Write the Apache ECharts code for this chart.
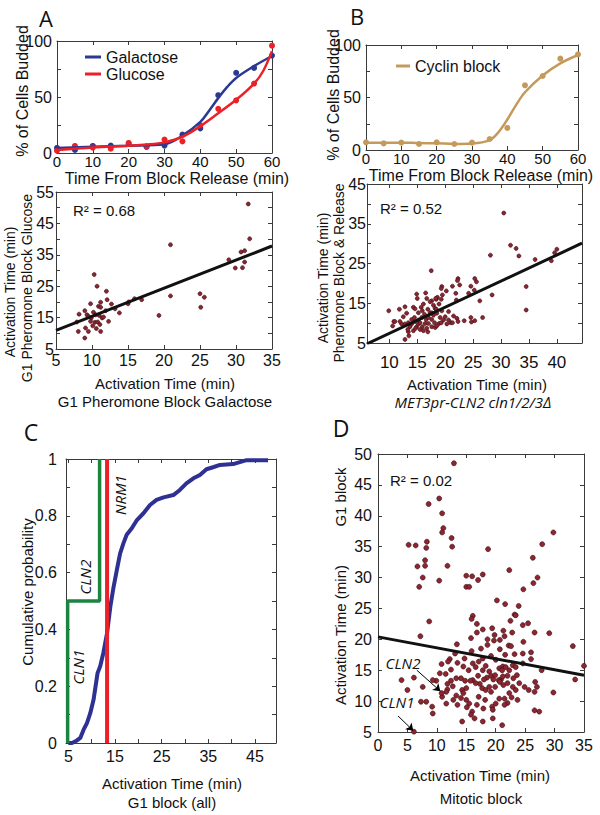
<!DOCTYPE html>
<html><head><meta charset="utf-8">
<script src="https://cdn.jsdelivr.net/npm/echarts@6/dist/echarts.min.js"></script>
<style>html,body{margin:0;padding:0;background:#fff}#c{width:600px;height:815px}</style>
</head><body><div id="c"></div>
<script>
// ---------- DATA ----------
// Panel A (top): % of cells budded vs time
const timeTicks = [0, 10, 20, 30, 40, 50, 60];
const galactoseDots = [[0,4.5],[5,2.7],[10,6.3],[15,6.6],[20,8],[25,5.4],[30,6.6],[35,16.4],[40,22],[45,51.6],[50,71.6],[55,76],[60,87]];
const glucoseDots = [[0,2],[5,6.3],[10,4.8],[15,3.9],[20,9],[25,6],[30,12],[35,10.4],[40,25],[45,39.4],[50,47],[55,62],[60,95.8]];
const galactoseFit = [[0,4.5],[10,5.5],[20,6.5],[30,7.8],[35,15.5],[40,27.8],[42.5,38],[45,49],[47.5,59],[50,67],[55,77.6],[60,86.6]];
const glucoseFit = [[0,2.7],[10,5],[20,6.5],[25,7.5],[30,9.5],[35,14.5],[40,24],[45,35.5],[50,47.5],[55,62],[57.5,73],[60,91]];
// Panel B (top)
const cyclinDots = [[0,7.3],[5,6.3],[10,7],[15,5.7],[20,7.3],[25,5.7],[30,7],[35,10.5],[40,21],[45,61.6],[50,70.5],[55,87],[60,91]];
const cyclinFit = [[0,7],[10,7],[15,6.6],[20,6.4],[25,5.8],[30,6.2],[35,9.5],[37.5,17],[40,29],[42.5,43],[45,55],[50,71],[55,82.5],[60,90.5]];
// Panel A (bottom): galactose vs glucose activation times
const scatterA = [[31.7,51.2],[31.9,40.1],[20.9,38.2],[30.7,35.9],[31.2,36.3],[29.0,33.4],[31.2,32.7],[29.9,30.8],[30.9,30.9],[10.3,28.7],[10.7,25.0],[12.0,23.4],[25.0,22.6],[25.6,21.5],[20.9,21.9],[25.1,18.3],[19.3,15.7],[12.1,20.7],[11.2,19.9],[9.8,19.4],[12.7,19.3],[10.9,18.6],[11.2,18.3],[13.2,17.8],[11.9,17.2],[13.8,16.5],[15.0,19.4],[15.1,20.0],[15.9,21.0],[16.9,20.7],[8.2,16.1],[9.0,17.2],[9.3,15.9],[9.5,15.4],[9.9,14.9],[10.2,16.7],[10.5,15.9],[11.0,15.7],[11.4,14.9],[9.8,13.8],[10.4,13.5],[10.8,13.6],[12.3,13.8],[11.1,12.8],[9.1,11.7],[10.6,11.5],[9.5,10.6],[8.1,10.6],[11.2,10.6],[9.0,8.5],[10.1,12.4],[11.6,15.2],[7.9,13.6]];
const fitA = [[5,10.9],[35,37.8]];
// Panel B (bottom)
const scatterB = [[30.5,37.7],[31.7,29.6],[32.7,28.8],[33.2,26.9],[28.1,27.1],[36.1,26.0],[39.0,25.7],[39.6,27.7],[40.0,28.6],[34.5,19.2],[34.5,13.3],[28.4,17.1],[26.2,15.6],[26.7,11.4],[17.5,23.2],[22.3,21.2],[22.2,20.7],[22.6,19.6],[21.3,19.3],[25.3,21.2],[25.6,20.4],[24.6,19.3],[25.2,18.3],[19.4,19.2],[19.3,18.7],[20.2,18.1],[19.5,17.1],[18.4,16.0],[18.6,16.5],[24.2,17.5],[19.3,16.0],[21.9,17.5],[22.0,15.8],[14.9,17.3],[16.5,17.6],[15.0,16.2],[16.7,16.2],[18.3,16.2],[17.6,15.6],[12.8,14.1],[11.8,13.5],[9.9,13.1],[14.3,14.0],[14.6,13.6],[15.7,14.0],[15.9,13.1],[17.9,14.5],[18.2,13.7],[16.9,13.5],[17.3,12.6],[18.4,13.5],[19.4,13.1],[20.6,12.9],[21.5,11.8],[22.1,11.2],[23.4,10.6],[24.6,11.4],[25.3,10.6],[24.7,10.3],[21.0,10.1],[21.3,10.1],[20.3,9.8],[19.7,10.8],[18.9,9.9],[18.1,10.1],[17.6,9.1],[16.4,9.9],[15.9,9.1],[16.9,7.8],[16.1,8.1],[15.5,8.4],[14.9,9.1],[14.3,8.1],[13.7,9.1],[13.4,7.8],[13.5,6.8],[12.8,5.9],[12.2,9.8],[11.9,10.4],[10.8,10.4],[10.6,9.3],[11.0,10.4],[13.4,10.1],[14.0,10.9],[14.5,11.4],[15.2,10.8],[15.8,11.4],[16.6,10.9],[17.0,11.4],[17.6,10.9],[17.9,12.0],[18.5,12.5],[19.1,11.4],[14.6,10.4],[15.2,9.8],[15.5,10.1],[14.0,9.8],[13.3,8.4],[20.0,11.6],[20.6,10.8],[18.2,8.9],[17.0,9.9],[16.3,12.2],[15.2,12.6],[22.3,10.4],[17.6,12.6],[12.8,9.8],[14.7,8.7],[16.7,8.7],[18.5,9.3],[19.3,10.1],[12.5,11.6],[13.1,12.5],[17.3,15.4],[16.1,14.8],[18.9,14.8]];
const fitB = [[6,4.8],[44.5,30.1]];
// Panel C: cumulative distribution
const cdfBlue = [[5.0,0],[5.8,0],[6.85,0.009],[7.56,0.018],[8.27,0.047],[8.99,0.07],[9.7,0.105],[10.4,0.152],[11.26,0.246],[11.83,0.27],[12.5,0.317],[13.3,0.387],[14.0,0.48],[14.7,0.55],[15.4,0.61],[16.1,0.668],[16.8,0.703],[17.5,0.733],[18.6,0.756],[19.7,0.785],[21.1,0.809],[22.5,0.838],[23.9,0.856],[25.4,0.865],[27.5,0.873],[28.9,0.891],[30.3,0.914],[31.8,0.932],[33.2,0.944],[34.6,0.964],[36.0,0.971],[37.5,0.979],[40.3,0.982],[43.2,0.996],[47.8,0.996]];
const cdfCLN = [[4.85,0],[4.85,0.5],[11.7,0.5],[11.7,1]];
const cdfNRM1 = [[13.3,0],[13.3,1]];
// Panel D: mitotic block vs G1 block
const scatterD = [[12.9,48.5],[10.4,42.8],[8.6,41.9],[10.9,40.4],[11.1,38.0],[10.9,37.3],[12.5,36.4],[8.3,35.8],[12.6,35.0],[5.2,35.3],[6.4,35.2],[8.2,34.8],[18.7,34.6],[29.8,37.3],[27.9,35.4],[26.3,33.2],[8.0,32.8],[8.0,31.9],[6.7,31.8],[11.8,31.9],[7.6,30.0],[10.4,29.5],[7.0,28.5],[15.0,30.3],[16.0,30.2],[17.0,29.6],[17.8,30.5],[22.3,31.2],[27.1,30.0],[26.4,29.1],[15.0,28.5],[15.5,28.5],[24.7,28.1],
[20.2,26.3],[21.6,25.7],[23.9,25.4],[23.2,24.0],[23.4,23.9],[16.1,23.8],[15.9,23.3],[8.7,22.9],[22.5,23.0],[25.5,22.6],[24.6,22.3],[16.8,22.5],[19.4,21.8],[17.8,21.6],[16.8,21.1],[22.8,21.1],[21.3,21.4],[26.6,21.1],[29.1,21.0],[7.2,20.5],[21.5,20.5],[19.8,20.7],[18.6,20.0],[19.7,19.8],[20.7,19.9],[24.7,19.6],[15.8,20.2],[13.4,19.2],[22.2,19.0],[22.6,18.9],[33.1,18.9],[20.7,18.4],[17.5,18.5],[18.6,19.1],[15.9,18.1],[13.1,17.7],[24.6,17.7],[26.0,17.9],[23.2,17.6],[21.6,17.5],[14.7,16.9],[19.2,17.3],[17.8,16.9],[17.1,16.4],[12.2,16.8],[11.9,16.4],[10.8,16.0],[13.5,16.2],[16.1,16.1],[20.0,16.7],[26.0,16.8],[24.6,16.1],[22.9,15.8],[21.2,15.6],[18.3,15.7],[20.6,15.3],[14.5,15.6],[15.4,15.0],[16.6,15.5],[17.8,15.0],[18.9,14.8],[19.2,14.1],[18.5,13.8],[19.9,14.2],[21.1,15.0],[21.7,15.5],[22.3,15.0],[23.4,15.5],[23.6,14.2],[23.0,13.7],[22.0,14.1],[20.9,13.5],[21.2,14.0],[20.5,13.4],[19.6,13.5],[18.0,13.5],[17.0,14.1],[16.1,13.4],[15.7,13.3],[14.8,13.3],[14.1,13.7],[13.3,13.7],[12.4,13.3],[12.4,15.1],[11.5,14.4],[10.5,14.5],[9.9,13.3],[9.3,13.4],[11.8,11.9],[10.9,10.7],[11.6,11.5],[12.7,12.4],[14.3,11.8],[14.5,11.3],[13.3,10.9],[13.5,9.4],[15.0,10.2],[15.5,9.6],[15.1,9.0],[16.0,8.3],[16.4,7.2],[16.8,9.4],[17.1,10.7],[17.7,12.1],[18.3,11.8],[18.9,12.3],[19.2,11.5],[17.3,12.8],[19.9,12.3],[20.7,13.1],[21.3,12.6],[22.0,12.9],[22.9,12.3],[24.0,12.9],[24.9,12.3],[26.7,13.1],[27.0,12.3],[25.6,11.8],[26.6,11.5],[29.8,11.4],[23.4,11.8],[22.3,11.3],[21.5,10.4],[22.7,10.6],[20.6,10.4],[20.0,9.6],[22.0,9.7],[21.5,9.4],[19.4,9.1],[18.2,10.2],[17.9,8.8],[17.8,6.7],[19.5,7.2],[21.1,6.1],[26.6,8.5],[27.4,8.3],[15.0,12.1],[14.1,10.5],[12.8,10.2],[11.6,9.6],[9.2,9.1],[9.3,8.0],[8.2,9.9],[7.3,9.9],[7.6,12.3],[6.1,13.8],[5.0,11.8],[4.0,13.4],[10.8,11.3],[6.1,5.05],[14.3,6.7],[15.8,7.8],[19.5,8.6],[16.6,12.9],[23.7,10.2],[35.0,15.7],[33.5,13.5],[27.8,15.0],[11.8,12.8]];
const fitD = [[0,20.4],[35,14.2]];
const arrowCLN2 = [[6.6,15],[10.6,11.6]];
const arrowCLN1 = [[3.4,7.6],[6.0,5.2]];

// ---------- STYLE / LAYOUT ----------
const FONT = "'Liberation Sans', Arial, sans-serif";
const SOFT = "'Open Sans', 'Liberation Sans', sans-serif";
const BLUE = '#2b3990', RED = '#ec2027', TAN = '#c49a5c', DOT = '#8c2630', GREEN = '#1b8440', CDFBLUE = '#2e3192';
const grids = [
  {left:57, top:41, width:215, height:112},
  {left:366, top:45, width:212, height:105},
  {left:56, top:192, width:216, height:157},
  {left:367, top:184, width:215, height:159},
  {left:66, top:459, width:210, height:284},
  {left:378, top:454, width:206, height:278}
];
function range(a, b, s) { const r = []; for (let v = a; v <= b + 1e-9; v += s) r.push(Math.round(v * 1000) / 1000); return r; }
const xAxes = [], yAxes = [];
function addAxes(list, g, dim, min, max, ticks, labels, size, margin) {
  const common = {type:'value', gridIndex:g, min:min, max:max, splitLine:{show:false},
    axisLine:{show:true, onZero:false, lineStyle:{color:'#3a3a3a', width:1}},
    axisTick:{show:true, inside:true, length:4, customValues:ticks, lineStyle:{color:'#3a3a3a', width:1}}};
  list.push(Object.assign({}, common, {position: dim === 'x' ? 'bottom' : 'left',
    axisLabel:{show:true, customValues:labels, margin:margin, fontSize:size, fontFamily:FONT, color:'#111'}}));
  list.push(Object.assign({}, common, {position: dim === 'x' ? 'top' : 'right', axisLabel:{show:false}}));
}
// A top, B top
addAxes(xAxes, 0, 'x', 0, 60, timeTicks, timeTicks, 15, 1);
addAxes(yAxes, 0, 'y', 0, 100, [0,25,50,75,100], [0,50,100], 16, 5);
addAxes(xAxes, 1, 'x', 0, 60, timeTicks, timeTicks, 15, 1);
addAxes(yAxes, 1, 'y', 0, 100, [0,25,50,75,100], [0,50,100], 16, 5);
// A bottom
addAxes(xAxes, 2, 'x', 5, 35, range(5,35,5), range(5,35,5), 16, 3);
addAxes(yAxes, 2, 'y', 5, 55, range(5,55,5), range(5,55,10), 16, 2);
// B bottom
addAxes(xAxes, 3, 'x', 6, 44.5, range(10,40,5), range(10,40,5), 17, 11);
addAxes(yAxes, 3, 'y', 5, 45, range(5,45,5), range(5,45,10), 16, 1);
// C
addAxes(xAxes, 4, 'x', 4.5, 49.5, range(5,45,5), range(5,45,10), 16, 5);
addAxes(yAxes, 4, 'y', 0, 1, range(0,1,0.1), [0,0.2,0.4,0.6,0.8,1], 16, 9);
// D
addAxes(xAxes, 5, 'x', 0, 35, range(0,35,5), range(0,35,5), 16, 5);
addAxes(yAxes, 5, 'y', 5, 50, range(5,50,5), range(5,50,5), 16, 6);

function line(name, g, data, color, width, smooth) {
  return {type:'line', name:name, xAxisIndex:2*g, yAxisIndex:2*g, data:data, smooth:smooth || false,
    symbol:'none', showSymbol:false, lineStyle:{color:color, width:width}, itemStyle:{color:color}, z:3, silent:true};
}
function dots(name, g, data, color, size, border) {
  return {type:'scatter', name:name, xAxisIndex:2*g, yAxisIndex:2*g, data:data, symbolSize:size,
    itemStyle:{color:color, borderColor:border || color, borderWidth:border ? 0.6 : 0, opacity:1}, z:2, silent:true};
}
const series = [
  dots('Galactose pts', 0, galactoseDots, BLUE, 6),
  dots('Glucose pts', 0, glucoseDots, RED, 6),
  line('Galactose', 0, galactoseFit, BLUE, 2.5, 0.35),
  line('Glucose', 0, glucoseFit, RED, 2.5, 0.35),
  dots('Cyclin pts', 1, cyclinDots, TAN, 6),
  line('Cyclin block', 1, cyclinFit, TAN, 2.5, 0.35),
  dots('A cells', 2, scatterA, DOT, 4, '#3a0c12'),
  line('A fit', 2, fitA, '#111', 3),
  dots('B cells', 3, scatterB, DOT, 4, '#3a0c12'),
  line('B fit', 3, fitB, '#111', 3),
  line('CDF', 4, cdfBlue, CDFBLUE, 4),
  line('CLN', 4, cdfCLN, GREEN, 3.5),
  line('NRM1', 4, cdfNRM1, RED, 4),
  dots('D cells', 5, scatterD, DOT, 5, '#3a0c12'),
  line('D fit', 5, fitD, '#111', 3),
  {type:'lines', coordinateSystem:'cartesian2d', xAxisIndex:10, yAxisIndex:10, silent:true,
   data:[{coords:arrowCLN2}, {coords:arrowCLN1}], symbol:['none','arrow'], symbolSize:7,
   lineStyle:{color:'#000', width:1, opacity:1, curveness:0}, z:5}
];

function txt(text, x, y, size, opts) {
  opts = opts || {};
  return {type:'text', x:x, y:y, rotation: opts.rot || 0, silent:true, z:10,
    style:{text:text, fontSize:size, fontFamily: opts.family || FONT, fontStyle: opts.italic ? 'italic' : 'normal',
      fill:'#111', textAlign: opts.align || 'center', textVerticalAlign:'middle'}};
}
const R = Math.PI / 2;
const graphics = [
  txt('A', 46, 18, 22, {family:SOFT}),
  txt('B', 357, 16, 22, {family:SOFT}),
  txt('C', 31, 432, 23, {family:SOFT}),
  txt('D', 341, 428, 23, {family:SOFT}),
  // A top
  txt('% of Cells Budded', 22, 91, 16, {rot:R}),
  txt('Time From Block Release (min)', 177, 178, 16),
  // B top
  txt('% of Cells Budded', 333, 95, 16, {rot:R}),
  txt('Time From Block Release (min)', 481, 175, 16),
  // A bottom
  txt('Activation Time (min)', 10, 292, 14, {rot:R}),
  txt('G1 Pheromone Block Glucose', 27, 288, 14, {rot:R}),
  txt('Activation Time (min)', 165, 383, 15),
  txt('G1 Pheromone Block Galactose', 165, 401, 15),
  txt('R² = 0.68', 73, 210, 15, {align:'left'}),
  // B bottom
  txt('Activation Time (min)', 323, 278, 14, {rot:R}),
  txt('Pheromone Block & Release', 339, 273, 14, {rot:R}),
  txt('Activation Time (min)', 477, 384, 15),
  txt('MET3pr-CLN2 cln1/2/3Δ', 473, 402, 15, {italic:true, family:SOFT}),
  txt('R² = 0.52', 380, 208, 15, {align:'left'}),
  // C
  txt('Cumulative probability', 27, 592, 15, {rot:R}),
  txt('Activation Time (min)', 172, 783, 15),
  txt('G1 block (all)', 172, 802, 15),
  txt('CLN1', 78, 667, 15, {rot:R, italic:true, family:SOFT}),
  txt('CLN2', 85, 577, 15, {rot:R, italic:true, family:SOFT}),
  txt('NRM1', 120, 495, 15, {rot:R, italic:true, family:SOFT}),
  // D
  txt('Activation Time (min)', 340, 635, 15, {rot:R}),
  txt('G1 block', 340, 497, 15, {rot:R}),
  txt('Activation Time (min)', 480, 775, 15),
  txt('Mitotic block', 481, 798, 15),
  txt('R² = 0.02', 390, 480, 15, {align:'left'}),
  txt('CLN2', 403, 663, 15, {italic:true, family:SOFT}),
  txt('CLN1', 397, 702, 15, {italic:true, family:SOFT})
];

const chart = echarts.init(document.getElementById('c'), null, {renderer:'svg', width:600, height:815});
chart.setOption({
  backgroundColor:'#ffffff',
  animation:false,
  grid: grids.map(g => Object.assign({containLabel:false}, g)),
  xAxis: xAxes,
  yAxis: yAxes,
  legend: [
    {data:['Galactose','Glucose'], left:80, top:44, orient:'vertical', icon:'rect', itemWidth:16, itemHeight:3,
     itemGap:1, selectedMode:false, textStyle:{fontSize:16, fontFamily:FONT, color:'#111'}},
    {data:['Cyclin block'], left:391, top:53, orient:'vertical', icon:'rect', itemWidth:14, itemHeight:3,
     selectedMode:false, textStyle:{fontSize:16, fontFamily:FONT, color:'#111'}}
  ],
  series: series,
  graphic: graphics
});
</script></body></html>
